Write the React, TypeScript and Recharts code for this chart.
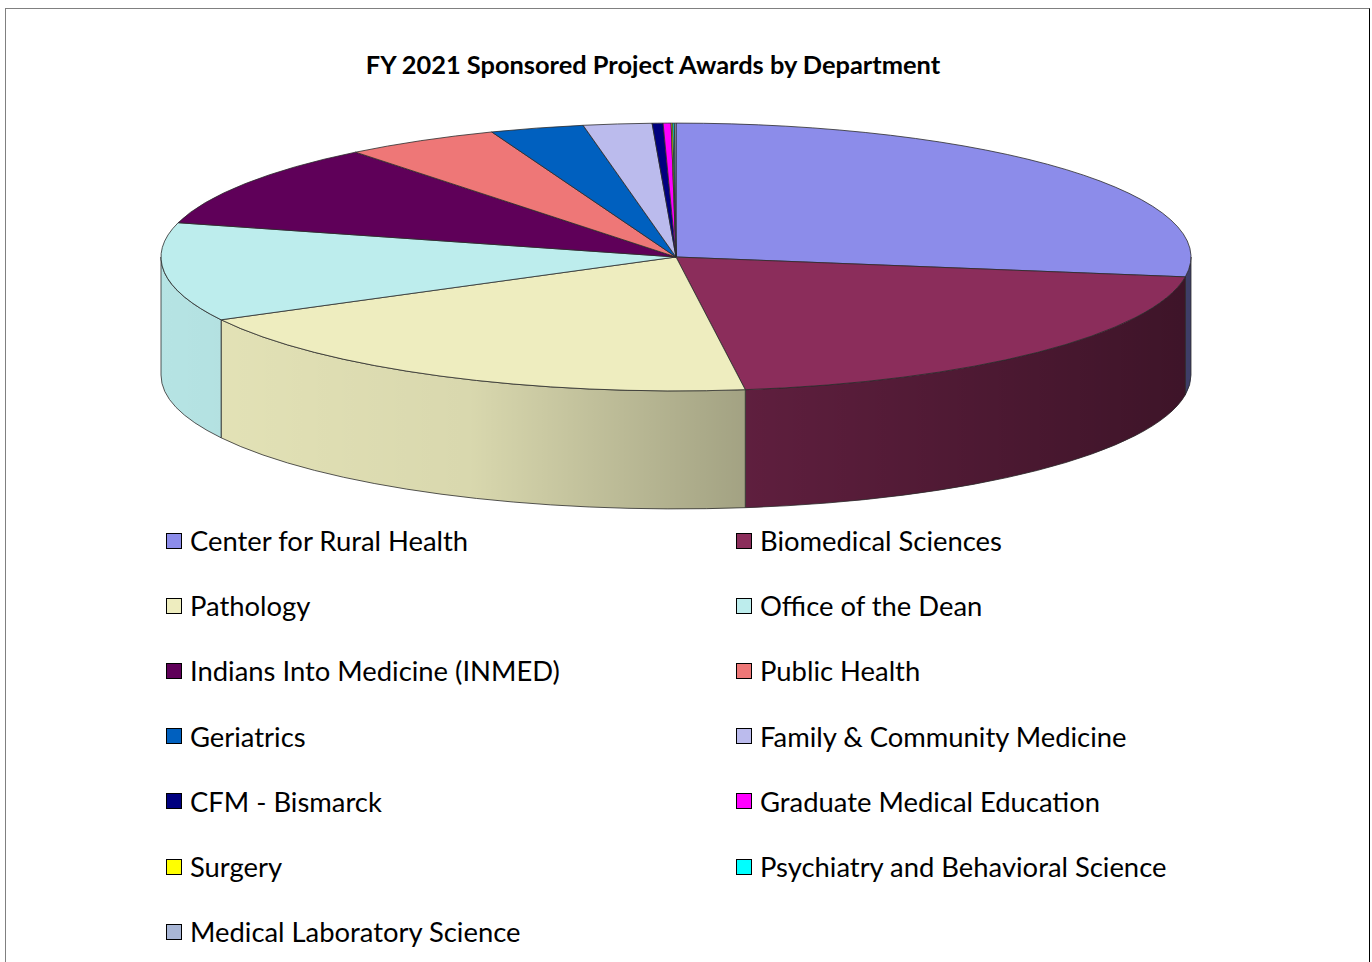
import React from 'react'
import { Legend, Pie, PieChart } from 'recharts'

const departments = [
  'Center for Rural Health',
  'Biomedical Sciences',
  'Pathology',
  'Office of the Dean',
  'Indians Into Medicine (INMED)',
  'Public Health',
  'Geriatrics',
  'Family & Community Medicine',
  'CFM - Bismarck',
  'Graduate Medical Education',
  'Surgery',
  'Psychiatry and Behavioral Science',
  'Medical Laboratory Science',
]

// share of FY 2021 awards, percent
const awardShares = [27.4, 20.5, 19.4, 11.9, 10.2, 4.87, 2.94, 2.15, 0.34, 0.25, 0.05, 0.05, 0.05]

const sliceColors = [
  '#8c8cea', '#8b2d5b', '#eeedbf', '#bdeded', '#5f0059', '#ee7777', '#0060bf',
  '#bbbbed', '#00007f', '#ff00ff', '#ffff00', '#00ffff', '#a8b6d6',
]

const data = departments.map((name, i) => ({ name, value: awardShares[i], fill: sliceColors[i] }))

const TILT = 0.26
const DEPTH = 118
const RAD = Math.PI / 180

const Slice3D = (props: any) => {
  const { cx, cy, startAngle, endAngle, outerRadius, fill, index } = props
  const rx = outerRadius
  const ry = outerRadius * TILT
  const pt = (a: number, dy = 0) => `${cx + rx * Math.cos(a * RAD)},${cy - ry * Math.sin(a * RAD) + dy}`
  const hi = Math.max(startAngle, endAngle)
  const lo = Math.min(startAngle, endAngle)
  const large = hi - lo > 180 ? 1 : 0
  const top = `M${cx},${cy} L${pt(hi)} A${rx},${ry} 0 ${large} 1 ${pt(lo)} Z`

  // front half of the rim is where sin < 0
  const sides: string[] = []
  for (const k of [-1, 0, 1]) {
    const a = Math.min(hi, 360 * k)
    const b = Math.max(lo, 360 * k - 180)
    if (a - b > 0.01) {
      sides.push(
        `M${pt(a)} A${rx},${ry} 0 0 1 ${pt(b)} L${pt(b, DEPTH)} A${rx},${ry} 0 0 0 ${pt(a, DEPTH)} Z`
      )
    }
  }
  const gid = `shade-${index}`
  return (
    <g>
      <defs>
        <linearGradient id={gid} gradientUnits="userSpaceOnUse" x1={cx - rx} y1={0} x2={cx + rx} y2={0}>
          <stop offset="0" stopColor="#000" stopOpacity={0.04} />
          <stop offset="0.3" stopColor="#000" stopOpacity={0.09} />
          <stop offset="0.57" stopColor="#000" stopOpacity={0.32} />
          <stop offset="1" stopColor="#000" stopOpacity={0.56} />
        </linearGradient>
      </defs>
      {sides.map((d, i) => (
        <g key={i}>
          <path d={d} fill={fill} />
          <path d={d} fill={`url(#${gid})`} stroke="#2b2b2b" strokeWidth={0.8} />
        </g>
      ))}
      <path d={top} fill={fill} stroke="#2b2b2b" strokeWidth={0.8} strokeLinejoin="round" />
    </g>
  )
}

const renderLegend = () => (
  <div style={{ display: 'grid', gridTemplateColumns: '570px 570px' }}>
    {data.map((d) => (
      <div
        key={d.name}
        style={{ display: 'flex', alignItems: 'center', height: 65.2, fontFamily: 'Lato', fontSize: 27.4, color: '#000' }}
      >
        <span
          style={{
            width: 16, height: 16, boxSizing: 'border-box', border: '1.5px solid #000',
            background: d.fill, marginRight: 8, flex: 'none',
          }}
        />
        {d.name}
      </div>
    ))}
  </div>
)

export default function App() {
  return (
    <div
      style={{
        position: 'absolute', left: 5, top: 8, width: 1363, height: 960,
        border: '1px solid #808080', borderRight: '1.5px solid #000', background: '#fff',
      }}
    >
      <PieChart width={1363} height={960} margin={{ top: 0, right: 0, bottom: 0, left: 0 }}>
        <text x={647} y={65} textAnchor="middle" fontFamily="Lato" fontWeight="bold" fontSize={25.4} fill="#000">
          FY 2021 Sponsored Project Awards by Department
        </text>
        <Pie
          data={data}
          dataKey="value"
          nameKey="name"
          cx={670}
          cy={248}
          outerRadius={515}
          startAngle={90}
          endAngle={-270}
          shape={Slice3D}
          isAnimationActive={false}
        />
        <Legend
          content={renderLegend}
          wrapperStyle={{ position: 'absolute', left: 160, top: 499, bottom: 'auto', width: 1140 }}
        />
      </PieChart>
    </div>
  )
}
